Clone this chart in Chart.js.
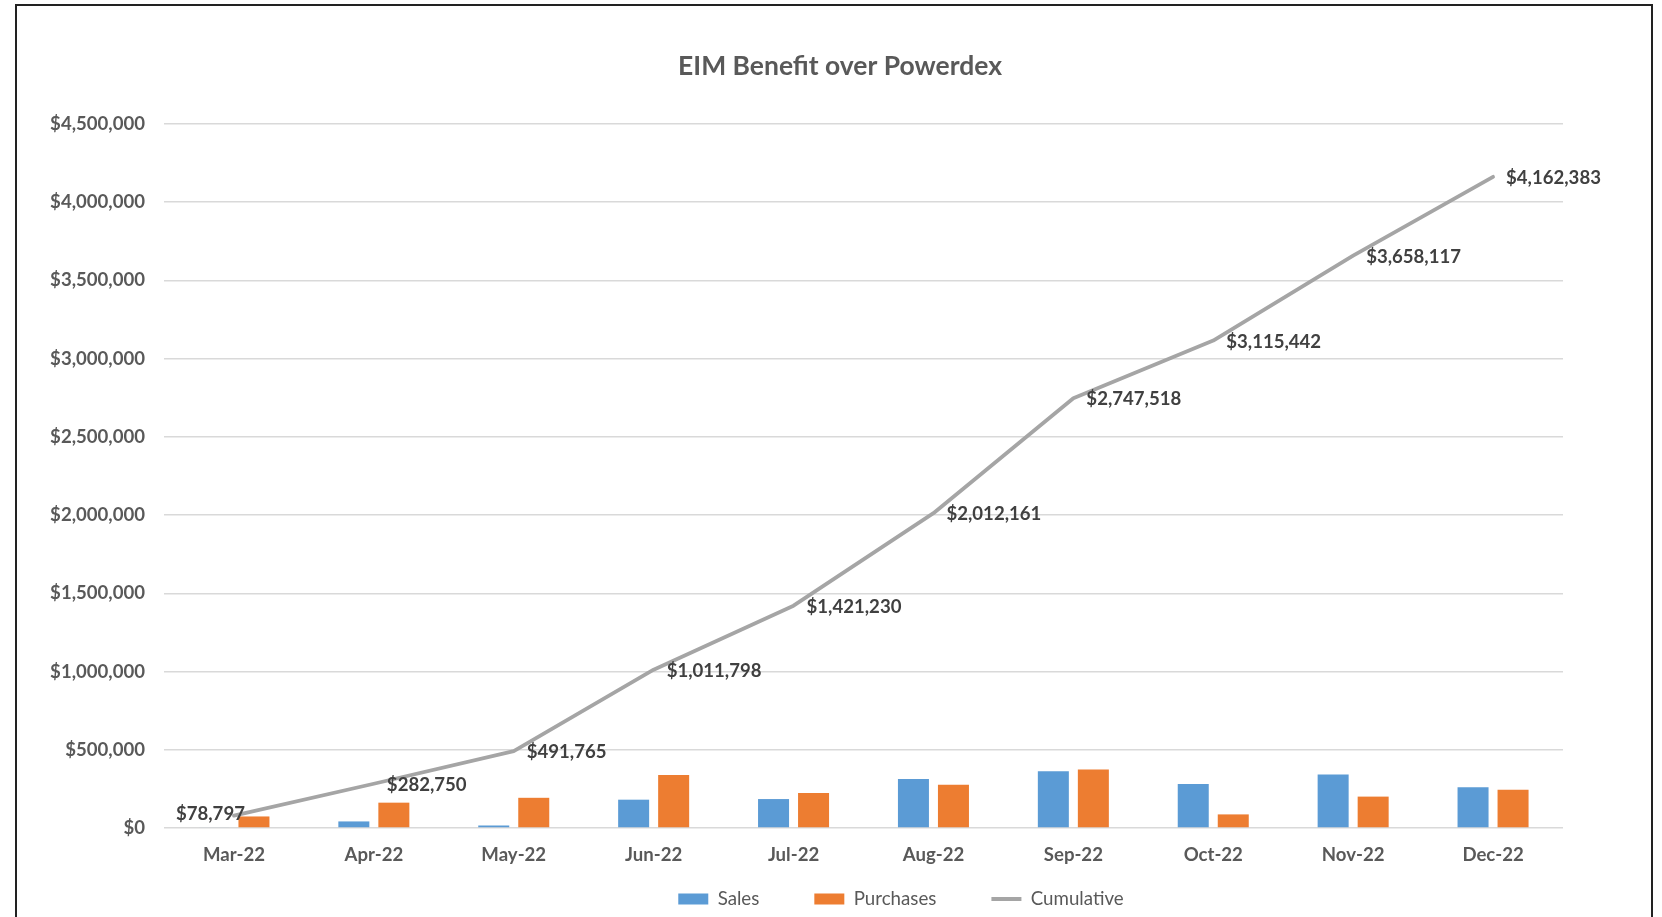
<!DOCTYPE html>
<html>
<head>
<meta charset="utf-8">
<script src="https://cdn.jsdelivr.net/npm/chart.js@4.4.1/dist/chart.umd.min.js"></script>
<style>
html,body{margin:0;padding:0;background:#fff;overflow:hidden;width:1662px;height:917px;}
#c{position:absolute;left:0;top:0;display:block;}
#frame{position:absolute;left:15px;top:4px;width:1638px;height:1000px;border:2px solid #222;box-sizing:border-box;pointer-events:none;}
</style>
</head>
<body>
<canvas id="c"></canvas>
<div id="frame"></div>
<script>
// ---- data ----
const categories = ['Mar-22','Apr-22','May-22','Jun-22','Jul-22','Aug-22','Sep-22','Oct-22','Nov-22','Dec-22'];
const sales      = [5000, 42000, 16000, 181000, 185000, 314000, 362000, 281000, 342000, 260000];
const purchases  = [73797, 161953, 193015, 339033, 224432, 276931, 373357, 86924, 200675, 244266];
const cumulative = [78797, 282750, 491765, 1011798, 1421230, 2012161, 2747518, 3115442, 3658117, 4162383];
const seriesNames = ['Sales','Purchases','Cumulative'];
const yMin = 0, yMax = 4500000, yStep = 500000;
const titleText = 'EIM Benefit over Powerdex';

const FAMILY = 'Lato, "Open Sans", "Noto Sans", sans-serif';
const fmt = v => '$' + Math.round(v).toLocaleString('en-US');

function fitSize(text, weight, target){
  const c = document.createElement('canvas').getContext('2d');
  c.font = weight + ' 100px ' + FAMILY;
  return 100 * target / c.measureText(text).width;
}

function init(){
  const titleSize  = fitSize(titleText, 'bold', 324);
  const tickSize   = fitSize('$4,500,000', 'bold', 95);
  const xSize      = fitSize('Mar-22', 'bold', 62);
  const labelSize  = fitSize('$2,747,518', 'bold', 95);
  const legendSize = fitSize('Cumulative', 'normal', 93);

  const H = 917;
  const legendPad = 55;
  const legendMaxH = 40;
  const legendCenterY = 899;
  const plotTop = 124, plotBottom = 828, plotLeft = 164, plotRight = 1563;

  const canvas = document.getElementById('c');
  canvas.width = 1662; canvas.height = H;
  canvas.style.width = '1662px'; canvas.style.height = H + 'px';

  const titleLH = titleSize * 1.2;

  const shiftPlugin = {
    id: 'shiftBlocks',
    afterLayout(chart){
      const t = chart.titleBlock;
      if (t) { const s = 840 - (t.left + t.right) / 2; t.left += s; t.right += s; }
      const l = chart.legend;
      if (l) {
        const s = 901 - (l.left + l.right) / 2; l.left += s; l.right += s;
        l.top = legendCenterY - legendPad - legendSize / 2;
        l.bottom = H;
      }
    }
  };

  const valueLabels = {
    id: 'valueLabels',
    afterDatasetsDraw(chart){
      const meta = chart.getDatasetMeta(2);
      const ctx = chart.ctx;
      ctx.save();
      ctx.font = 'bold ' + labelSize + 'px ' + FAMILY;
      ctx.fillStyle = '#404040';
      ctx.textBaseline = 'middle';
      meta.data.forEach((pt, i) => {
        const txt = fmt(chart.data.datasets[2].data[i]);
        if (i === 0) { ctx.textAlign = 'right'; ctx.fillText(txt, pt.x + 11, pt.y - 2); }
        else { ctx.textAlign = 'left'; ctx.fillText(txt, pt.x + 13, pt.y + 1); }
      });
      ctx.restore();
    }
  };

  new Chart(canvas, {
    data: {
      labels: categories,
      datasets: [
        { type: 'bar', label: seriesNames[0], data: sales, backgroundColor: '#5B9BD5', order: 1,
          categoryPercentage: 0.572, barPercentage: 0.775 },
        { type: 'bar', label: seriesNames[1], data: purchases, backgroundColor: '#ED7D31', order: 1,
          categoryPercentage: 0.572, barPercentage: 0.775 },
        { type: 'line', label: seriesNames[2], data: cumulative, borderColor: '#A5A5A5', backgroundColor: '#A5A5A5',
          borderWidth: 3.8, pointRadius: 0, tension: 0, order: 0, borderCapStyle: 'round', borderJoinStyle: 'round' }
      ]
    },
    options: {
      responsive: false,
      animation: false,
      devicePixelRatio: 1,
      layout: { padding: { left: 0, right: 1662 - plotRight, top: 0, bottom: 0 } },
      plugins: {
        tooltip: { enabled: false },
        title: {
          display: true, text: titleText, color: '#595959',
          font: { family: FAMILY, size: titleSize, weight: 'bold', lineHeight: 1.2 },
          padding: { top: 66 - titleLH / 2, bottom: plotTop - 66 - titleLH / 2 }
        },
        legend: {
          display: true, position: 'bottom', maxHeight: legendMaxH,
          labels: {
            color: '#595959',
            font: { family: FAMILY, size: legendSize },
            usePointStyle: true, pointStyleWidth: 30, boxHeight: 11, padding: legendPad,
            generateLabels(chart){
              return chart.data.datasets.map((ds, i) => ({
                text: ds.label,
                fillStyle: ds.type === 'line' ? ds.borderColor : ds.backgroundColor,
                strokeStyle: ds.type === 'line' ? ds.borderColor : ds.backgroundColor,
                lineWidth: ds.type === 'line' ? 4 : 0,
                pointStyle: ds.type === 'line' ? 'line' : 'rect',
                hidden: !chart.isDatasetVisible(i),
                datasetIndex: i,
                fontColor: '#595959'
              }));
            }
          }
        }
      },
      scales: {
        x: {
          grid: { display: false, drawTicks: false },
          border: { display: false },
          ticks: { color: '#595959', font: { family: FAMILY, size: xSize, weight: 'bold' },
                   padding: 27.5 - 0.6 * xSize, maxRotation: 0, autoSkip: false },
          afterFit(scale){ scale.height = H - legendMaxH - plotBottom; }
        },
        y: {
          min: yMin, max: yMax,
          grid: { color: '#D9D9D9', lineWidth: 1.5, drawTicks: false },
          border: { display: false },
          ticks: { stepSize: yStep, color: '#595959', padding: 19,
                   font: { family: FAMILY, size: tickSize, weight: 'bold' },
                   callback: v => fmt(v) },
          afterFit(scale){ scale.width = plotLeft; }
        }
      }
    },
    plugins: [shiftPlugin, valueLabels]
  });
}

Promise.all([document.fonts.load('bold 20px Lato'), document.fonts.load('20px Lato')]).then(init, init);
</script>
</body>
</html>
